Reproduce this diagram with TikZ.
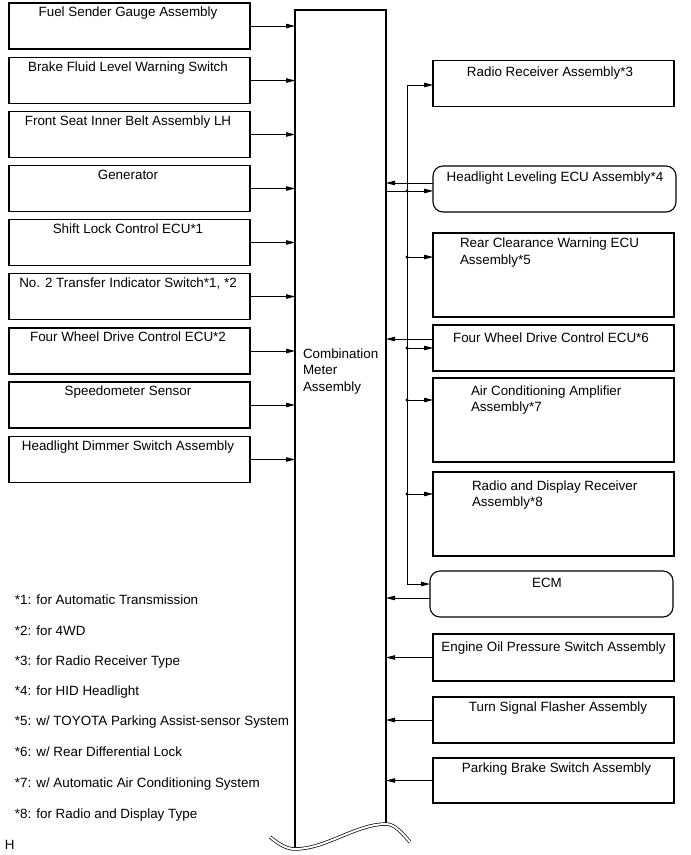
\documentclass[tikz,border=0pt]{standalone}
\usepackage{fontspec}
\setmainfont{Liberation Sans}
\usetikzlibrary{arrows.meta}
\begin{document}
\begin{tikzpicture}[x=1pt,y=-1pt,
  every node/.style={font=\fontsize{13.4}{16.7}\selectfont, inner sep=0pt, outer sep=0pt},
  bx/.style={draw=black, line width=1.1pt, anchor=north west, minimum height=46pt},
  lbx/.style={bx, minimum width=241pt},
  rbx/.style={bx, minimum width=241pt},
  rnd/.style={bx, rounded corners=10pt, minimum width=243pt},
  lt/.style={anchor=base},
  ml/.style={anchor=base west, align=left},
  arr/.style={-{Triangle[length=9pt,width=4.5pt]}, line width=0.8pt},
  ln/.style={line width=0.8pt},
  jdot/.style={fill=black}
]
\useasboundingbox (0,0) rectangle (691,855);

% main box
\node[anchor=north west, minimum width=91pt, minimum height=839pt] (M) at (295,10) {};
\coordinate (wR) at (386,824);
\draw[line width=1.1pt] (M.south west) -- (M.north west) -- (M.north east) -- (wR);
% multi-line nodes: base anchor is the last line's baseline
\node[ml] (Mt) at (303,391.5) {Combination\\Meter\\Assembly};
% wavy break
\draw[line width=0.7pt, double=white, double distance=2pt]
  (270,837) .. controls (280,845) and (287,849) .. (M.south west)
  .. controls (326,849) and (356,824) .. (wR)
  .. controls (395,824) and (403,834) .. (410,842);

% left boxes
\node[lbx] (L1) at (9,3) {};
\node[lbx] (L2) at (9,57.5) {};
\node[lbx] (L3) at (9,111.5) {};
\node[lbx] (L4) at (9,165.5) {};
\node[lbx] (L5) at (9,219.5) {};
\node[lbx] (L6) at (9,273.5) {};
\node[lbx] (L7) at (9,328) {};
\node[lbx] (L8) at (9,382) {};
\node[lbx] (L9) at (9,436.5) {};
\node[lt] (T1) at ([xshift=-1.5pt,yshift=-13.8pt]L1.north) {Fuel Sender Gauge Assembly};
\node[lt] (T2) at ([xshift=-1.5pt,yshift=-13.8pt]L2.north) {Brake Fluid Level Warning Switch};
\node[lt] (T3) at ([xshift=-1.5pt,yshift=-13.8pt]L3.north) {Front Seat Inner Belt Assembly LH};
\node[lt] (T4) at ([xshift=-1.5pt,yshift=-13.8pt]L4.north) {Generator};
\node[lt] (T5) at ([xshift=-1.5pt,yshift=-13.8pt]L5.north) {Shift Lock Control ECU*1};
\node[lt] (T6) at ([xshift=-1.5pt,yshift=-13.8pt]L6.north) {No. 2 Transfer Indicator Switch*1, *2};
\node[lt] (T7) at ([xshift=-1.5pt,yshift=-13.8pt]L7.north) {Four Wheel Drive Control ECU*2};
\node[lt] (T8) at ([xshift=-1.5pt,yshift=-13.8pt]L8.north) {Speedometer Sensor};
\node[lt] (T9) at ([xshift=-1.5pt,yshift=-13.8pt]L9.north) {Headlight Dimmer Switch Assembly};
\foreach \i in {1,...,9} {
  \draw[arr] (L\i.east) -- (L\i.east -| M.west);
}

% right boxes
\node[rbx] (RR) at (433,60.5) {};
\node[rnd] (HL) at (433,166) {};
\node[rbx, minimum height=84pt] (RC) at (433,233) {};
\node[rbx] (F6) at (433,325) {};
\node[rbx, minimum height=84pt] (AC) at (433,378) {};
\node[rbx, minimum height=84pt] (RD) at (433,472) {};
\node[rnd] (ECM) at (430,571) {};
\node[rbx, minimum height=47pt] (EO) at (433,634) {};
\node[rbx] (TS) at (433,697) {};
\node[rbx, minimum height=45pt] (PB) at (433,758) {};

\node[lt] (tRR) at (550,76.5) {Radio Receiver Assembly*3};
\node[lt] (tHL) at (555,181.5) {Headlight Leveling ECU Assembly*4};
\node[ml] (tRC) at (460,264.2) {Rear Clearance Warning ECU\\Assembly*5};
\node[lt] (tF6) at (551,342) {Four Wheel Drive Control ECU*6};
\node[ml] (tAC) at (471,411.7) {Air Conditioning Amplifier\\Assembly*7};
\node[ml] (tRD) at (472,506.7) {Radio and Display Receiver\\Assembly*8};
\node[lt] (tECM) at (547,587) {ECM};
\node[lt] (tEO) at (553.5,651) {Engine Oil Pressure Switch Assembly};
\node[lt] (tTS) at (558,711) {Turn Signal Flasher Assembly};
\node[lt] (tPB) at (556.5,772) {Parking Brake Switch Assembly};

% bus junctions
\coordinate (jRR) at (407,85);
\coordinate (jHL) at (407,191);
\coordinate (jRC) at (407,257);
\coordinate (jF6) at (407,348);
\coordinate (jAC) at (407,400);
\coordinate (jRD) at (407,494);
\coordinate (jECM) at (407,584);
\coordinate (oHL) at (407,183);
\coordinate (oF6) at (407,339);
\coordinate (oECM) at (407,598);

\draw[ln] (jRR) -- (jECM);
\draw[arr] (jRR) -- (jRR -| RR.west);
\draw[arr] (jHL -| M.east) -- (jHL -| HL.west);
\draw[arr] (jRC) -- (jRC -| RC.west);
\draw[arr] (jF6) -- (jF6 -| F6.west);
\draw[arr] (jAC) -- (jAC -| AC.west);
\draw[arr] (jRD) -- (jRD -| RD.west);
\draw[arr] (jECM) -- (jECM -| ECM.west);
\foreach \j in {jHL,jRC,jF6,jAC,jRD} { \fill[jdot] (\j) circle (1.7pt); }

\draw[arr] (oHL -| HL.west) -- (oHL -| M.east);
\draw[arr] (oF6 -| F6.west) -- (oF6 -| M.east);
\draw[arr] (oECM -| ECM.west) -- (oECM -| M.east);
\draw[arr] (EO.west) -- (EO.west -| M.east);
\draw[arr] (TS.west) -- (TS.west -| M.east);
\draw[arr] (PB.west) -- (PB.west -| M.east);

% footnotes
\node[ml] (f1) at (15,604.5) {*1: for Automatic Transmission};
\node[ml] (f2) at (15,635.5) {*2: for 4WD};
\node[ml] (f3) at (15,665.5) {*3: for Radio Receiver Type};
\node[ml] (f4) at (15,695.5) {*4: for HID Headlight};
\node[ml] (f5) at (15,725.5) {*5: w/ TOYOTA Parking Assist-sensor System};
\node[ml] (f6) at (15,756.5) {*6: w/ Rear Differential Lock};
\node[ml] (f7) at (15,787.5) {*7: w/ Automatic Air Conditioning System};
\node[ml] (f8) at (15,818.5) {*8: for Radio and Display Type};
\node[ml] (fH) at (5,849.5) {H};
\end{tikzpicture}
\end{document}
